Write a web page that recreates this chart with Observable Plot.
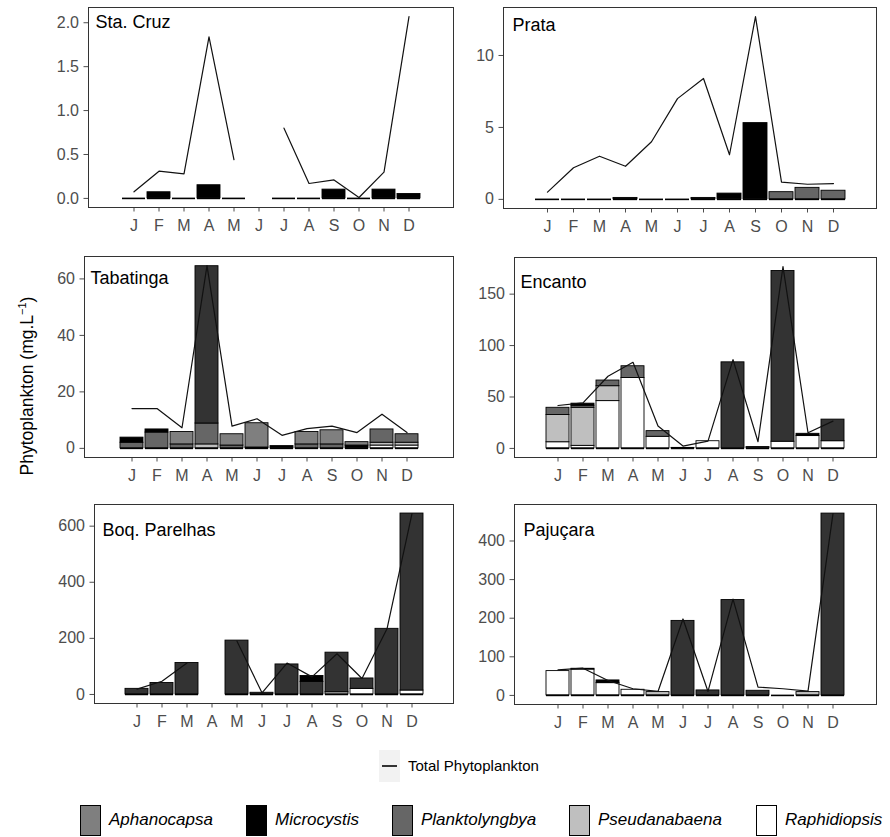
<!DOCTYPE html>
<html><head><meta charset="utf-8">
<script src="https://cdn.jsdelivr.net/npm/d3@7"></script>
<script src="https://cdn.jsdelivr.net/npm/@observablehq/plot@0.6"></script>
<style>
body{margin:0;background:#fff;font-family:"Liberation Sans",Arial,sans-serif;}
#root{position:relative;width:890px;height:837px;overflow:hidden;background:#fff;}
.panel{position:absolute;}
.ylab{position:absolute;left:27px;top:386px;transform:translate(-50%,-50%) rotate(-90deg);white-space:nowrap;font-size:17.5px;color:#000;}
.ylab sup{font-size:11px;}
.key{position:absolute;box-sizing:border-box;border:1px solid #000;}
.lab{position:absolute;font-size:17px;font-style:italic;color:#000;line-height:30px;white-space:nowrap;}
</style></head><body><div id="root"></div>
<script>
// ---------- data ----------
const months = [1,2,3,4,5,6,7,8,9,10,11,12];
const monthLabels = ["J","F","M","A","M","J","J","A","S","O","N","D"];
// stacking order, bottom -> top
const species = ["Raphidiopsis","Pseudanabaena","Planktolyngbya","Other","Microcystis","Aphanocapsa"];
const speciesColors = ["#ffffff","#bfbfbf","#666666","#333333","#000000","#7f7f7f"];
const legendSpecies = ["Aphanocapsa","Microcystis","Planktolyngbya","Pseudanabaena","Raphidiopsis"];
const legendColors = ["#7f7f7f","#000000","#666666","#bfbfbf","#ffffff"];
const sites = ["Sta. Cruz","Prata","Tabatinga","Encanto","Boq. Parelhas","Pajuçara"];

// Sta. Cruz
const staCruzTotal = [0.075,0.31,0.28,1.84,0.44,null,0.80,0.17,0.21,0.01,0.30,2.07];
const staCruzMicrocystis = [0,0.07,0,0.15,0,null,0,0,0.10,0,0.10,0.05];
const staCruzTicks = [0,0.5,1,1.5,2];

// Prata
const prataTotal = [0.5,2.2,3.0,2.3,4.0,7.0,8.4,3.1,12.7,1.2,1.05,1.1];
const prataMicrocystis = [0,0,0,0.1,0,0,0.1,0.4,5.3,0,0,0];
const prataPlanktolyngbya = [0,0,0,0,0,0,0,0,0,0.5,0.8,0.6];
const prataTicks = [0,5,10];

// Tabatinga
const tabatingaTotal = [14.1,14.1,7.3,64.7,7.9,10.5,4.6,7.0,7.9,5.6,12.1,5.6];
const tabatingaRaphidiopsis = [0,0,0,0,0,0,0,0,0,0,1.0,1.0];
const tabatingaPseudanabaena = [0,0,0,1.4,0,0,0,0,0,0,1.0,1.0];
const tabatingaPlanktolyngbya = [2.0,5.6,1.4,7.4,1.0,0.3,0,1.4,1.4,0,4.7,3.0];
const tabatingaOther = [0,0,0,55.7,0,0,0,0,0,0,0,0];
const tabatingaMicrocystis = [1.8,1.1,0,0,0,0,0.8,0,0,1.0,0,0];
const tabatingaAphanocapsa = [0,0,4.4,0,4.0,8.6,0,4.4,5.0,1.2,0,0];
const tabatingaTicks = [0,20,40,60];

// Encanto
const encantoTotal = [41.7,44.3,70.2,83.7,21.7,2.3,7.1,86.3,6.5,176.8,15.2,26.5];
const encantoRaphidiopsis = [6,2.5,46,68.5,11.3,0.5,7,0,0,6.5,12,7];
const encantoPseudanabaena = [26.5,37,14.5,0,0,0,0,0,0,0,0,0];
const encantoPlanktolyngbya = [7,2,5.5,11.4,5.5,0,0,0,0,0,0,0];
const encantoOther = [0,0,0,0,0,0,0,83.7,1.3,166,0,21];
const encantoMicrocystis = [0,2,0,0,0,0,0,0,0,0,2.2,0];
const encantoTicks = [0,50,100,150];

// Boq. Parelhas
const boqTotal = [18.9,47,112,null,190,6,112,62.6,145,57,234,645];
const boqRaphidiopsis = [0,0,0,null,0,0,0,0,0,20,0,14];
const boqPseudanabaena = [0,0,0,null,0,0,0,0,8,0,0,0];
const boqOther = [20,41,112,null,192,6,107,45,141,37,234,631];
const boqMicrocystis = [0,0,0,null,0,0,0,21,0,0,0,0];
const boqTicks = [0,200,400,600];

// Pajuçara
const pajucaraTotal = [66,70.5,38.7,17.2,10.3,198,10.3,249.5,21.5,17.2,11.2,471];
const pajucaraRaphidiopsis = [63,67,31.8,14.6,0,0,0,0,0,0,0,0];
const pajucaraPseudanabaena = [0,0,0,0,8.6,0,0,0,0,0,8.6,0];
const pajucaraOther = [0,0,0,0,0,193,12.9,247,12,0,0,471];
const pajucaraMicrocystis = [0,2,7,0,0,0,0,0,0,0,0,0];
const pajucaraTicks = [0,100,200,300,400];

// ---------- layout ----------
const panels = [
  {site:sites[0], L:88, R:453, T:7, B:207, tdx:7, tdy:8, total:staCruzTotal, ticks:staCruzTicks, fmt:d3.format(".1f"),
   bars:{Microcystis:staCruzMicrocystis}},
  {site:sites[1], L:503, R:876, T:7, B:208, tdx:9, tdy:11, total:prataTotal, ticks:prataTicks, fmt:d3.format("d"),
   bars:{Microcystis:prataMicrocystis, Planktolyngbya:prataPlanktolyngbya}},
  {site:sites[2], L:84, R:453, T:256, B:457, tdx:6, tdy:15, total:tabatingaTotal, ticks:tabatingaTicks, fmt:d3.format("d"),
   bars:{Raphidiopsis:tabatingaRaphidiopsis, Pseudanabaena:tabatingaPseudanabaena, Planktolyngbya:tabatingaPlanktolyngbya,
         Other:tabatingaOther, Microcystis:tabatingaMicrocystis, Aphanocapsa:tabatingaAphanocapsa}},
  {site:sites[3], L:514, R:876, T:257, B:457, tdx:6, tdy:18, total:encantoTotal, ticks:encantoTicks, fmt:d3.format("d"),
   bars:{Raphidiopsis:encantoRaphidiopsis, Pseudanabaena:encantoPseudanabaena, Planktolyngbya:encantoPlanktolyngbya,
         Other:encantoOther, Microcystis:encantoMicrocystis}},
  {site:sites[4], L:94, R:453, T:504, B:703, tdx:8, tdy:19, total:boqTotal, ticks:boqTicks, fmt:d3.format("d"),
   bars:{Raphidiopsis:boqRaphidiopsis, Pseudanabaena:boqPseudanabaena, Other:boqOther, Microcystis:boqMicrocystis}},
  {site:sites[5], L:514, R:876, T:504, B:704, tdx:9, tdy:19, total:pajucaraTotal, ticks:pajucaraTicks, fmt:d3.format("d"),
   bars:{Raphidiopsis:pajucaraRaphidiopsis, Pseudanabaena:pajucaraPseudanabaena, Other:pajucaraOther, Microcystis:pajucaraMicrocystis}}
];

const root = document.getElementById("root");
const ML = 60, MR = 6, MT = 6, MB = 36;

for (const p of panels) {
  const rows = [];
  for (const s of species) {
    const arr = p.bars[s];
    if (!arr) continue;
    arr.forEach((v, i) => { if (v != null && v > 0) rows.push({month: months[i], species: s, value: v}); });
  }
  const present = months.filter((m, i) => p.total[i] != null);
  const lineRows = months.map((m, i) => ({month: m, total: p.total[i]}));
  const stackTotals = months.map((m, i) => d3.sum(species, s => (p.bars[s] && p.bars[s][i]) || 0));
  const max = Math.max(d3.max(p.total), d3.max(stackTotals));
  const domain = [-0.05 * max, 1.05 * max];
  const w = p.R - p.L + ML + MR, h = p.B - p.T + MT + MB;
  const chart = Plot.plot({
    width: w, height: h,
    marginLeft: ML, marginRight: MR, marginTop: MT, marginBottom: MB,
    x: {type: "band", domain: months, paddingInner: 0.08, paddingOuter: 1.19,
        tickFormat: d => monthLabels[d - 1], tickSize: 4.5, tickPadding: 8, label: null},
    y: {domain, ticks: p.ticks, tickFormat: p.fmt, tickSize: 4.5, tickPadding: 5, label: null},
    color: {domain: species, range: speciesColors},
    style: {fontFamily: "Liberation Sans, Arial, sans-serif", fontSize: "16px", color: "#4d4d4d", background: "transparent", overflow: "visible"},
    marks: [
      Plot.barY(rows, {x: "month", y: "value", fill: "species", stroke: "black", strokeWidth: 0.9, order: species}),
      Plot.tickY(present, {x: d => d, y: d => 0, stroke: "black", strokeWidth: 1.6}),
      Plot.lineY(lineRows, {x: "month", y: "total", stroke: "#111", strokeWidth: 1.2}),
      Plot.frame({stroke: "#333", strokeWidth: 1}),
      Plot.text([p.site], {frameAnchor: "top-left", dx: p.tdx, dy: p.tdy, text: d => d, textAnchor: "start",
        lineAnchor: "top", fontSize: 18, fill: "black"})
    ]
  });
  chart.classList.add("panel");
  chart.style.left = (p.L - ML) + "px";
  chart.style.top = (p.T - MT) + "px";
  root.appendChild(chart);
}

// y axis title
const yl = document.createElement("div");
yl.className = "ylab";
yl.innerHTML = "Phytoplankton (mg.L<sup>−1</sup>)";
root.appendChild(yl);

// line legend
const tk = document.createElement("div");
tk.style.cssText = "position:absolute;left:379px;top:750px;width:21px;height:32px;background:#f2f2f2;";
const tl = document.createElement("div");
tl.style.cssText = "position:absolute;left:382px;top:765px;width:15px;height:1.8px;background:#333;";
const tt = document.createElement("div");
tt.style.cssText = "position:absolute;left:408px;top:756px;font-size:15px;line-height:20px;color:#000;white-space:nowrap;";
tt.textContent = "Total Phytoplankton";
root.append(tk, tl, tt);

// fill legend
const keyX = [80, 246, 392, 569, 756];
const labX = [109, 275, 421, 598, 785];
legendSpecies.forEach((s, i) => {
  const k = document.createElement("div");
  k.className = "key";
  k.style.cssText += `left:${keyX[i]}px;top:805px;width:21px;height:31px;background:${legendColors[i]};`;
  const l = document.createElement("div");
  l.className = "lab";
  l.style.left = labX[i] + "px";
  l.style.top = "805px";
  l.textContent = s;
  root.append(k, l);
});
</script></body></html>
